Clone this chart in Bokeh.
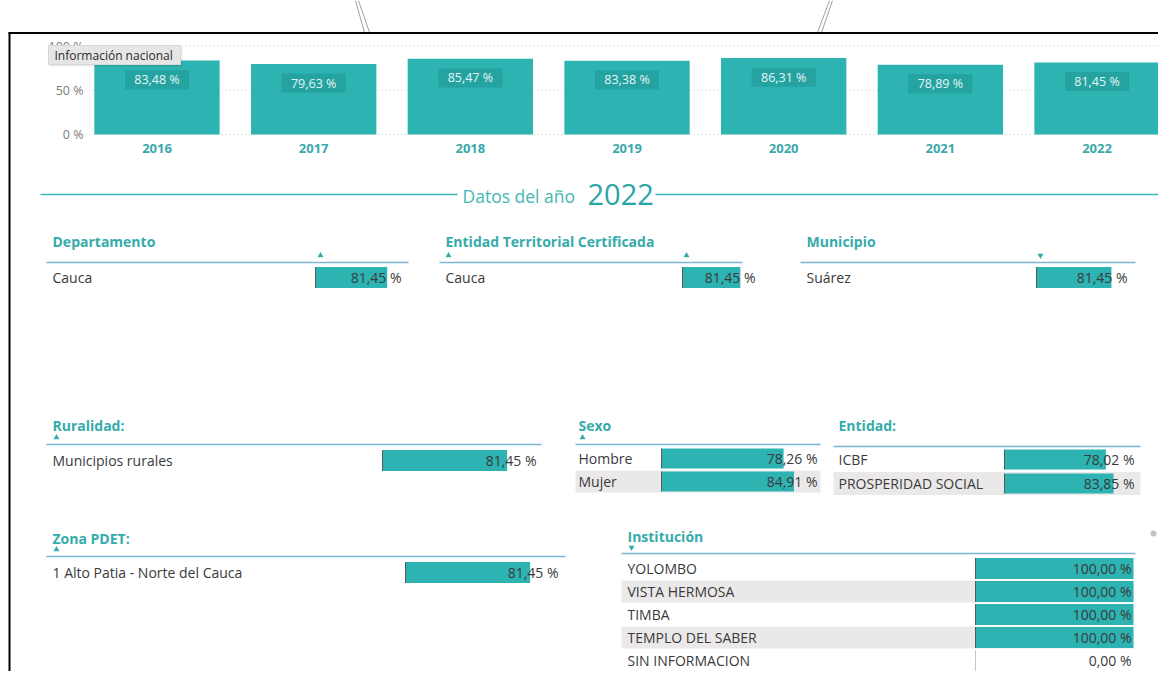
from bokeh.plotting import figure
from bokeh.models import Range1d, ColumnDataSource
from bokeh.core.properties import value
from bokeh.embed import file_html
from bokeh.resources import INLINE

# ---------------- data ----------------
years = ["2016", "2017", "2018", "2019", "2020", "2021", "2022"]
nacional = [83.48, 79.63, 85.47, 83.38, 86.31, 78.89, 81.45]
pct_ticks = [0, 50, 100]
pct_tick_labels = ["0 %", "50 %", "100 %"]

anio = "2022"

departamento = ["Cauca"]
departamento_val = [81.45]
etc_nombres = ["Cauca"]
etc_val = [81.45]
municipio = ["Suárez"]
municipio_val = [81.45]
ruralidad = ["Municipios rurales"]
ruralidad_val = [81.45]
sexo = ["Hombre", "Mujer"]
sexo_val = [78.26, 84.91]
entidad = ["ICBF", "PROSPERIDAD SOCIAL"]
entidad_val = [78.02, 83.85]
pdet = ["1 Alto Patia - Norte del Cauca"]
pdet_val = [81.45]
institucion = ["YOLOMBO", "VISTA HERMOSA", "TIMBA", "TEMPLO DEL SABER", "SIN INFORMACION"]
institucion_val = [100.0, 100.0, 100.0, 100.0, 0.0]

# ---------------- style ----------------
TEAL = "#2db3b1"
HEAD = "#35abab"
LINE = "#7db4d4"
TXT = "#3a3a3a"
STRIPE = "#ebe8e9"
FONT = value("Open Sans")

W, H = 1158, 671
X0, Y0 = 0, 0


def fmt(v):
    return f"{v:.2f}".replace(".", ",") + " %"


p = figure(width=W, height=H, x_range=Range1d(X0, X0 + W), y_range=Range1d(Y0 + H, Y0),
           output_backend="svg", toolbar_location=None, min_border=0,
           x_axis_location=None, y_axis_location=None)
p.grid.visible = False
p.outline_line_color = None
p.background_fill_color = "white"
p.border_fill_color = "white"


def xrange_lin(p0, scale):
    # value 0 at pixel p0, scale px per unit
    return Range1d((X0 - p0) / scale, (X0 + W - p0) / scale)


# ---------------- frame & artefacts ----------------
p.segment(x0=[355, 358, 832, 829], y0=[0, 0, 0, 0], x1=[364, 369, 821, 817], y1=[32, 32, 32, 32],
          line_color="#a0a0a0", line_width=1)
p.segment(x0=[8, 9], y0=[32.5, 32], x1=[1174, 9], y1=[32.5, 687], line_color="black", line_width=2)

# ---------------- top chart ----------------
p.extra_x_ranges["yr"] = xrange_lin(78.17, 156.67)
pct_zero, pct_scale = 134.0, -0.885
p.extra_y_ranges["pct"] = Range1d((Y0 + H - pct_zero) / pct_scale, (Y0 - pct_zero) / pct_scale)

p.segment(x0=85, x1=1164, y0=pct_ticks, y1=pct_ticks, y_range_name="pct",
          line_color="#c9c9c9", line_width=1, line_dash="1 3")
p.text(x=83, y=pct_ticks, text=pct_tick_labels, y_range_name="pct", text_align="right",
       text_baseline="middle", text_font=FONT, text_font_size="12.5px", text_color="#7a7a7a")

top_src = ColumnDataSource(dict(
    x=[i + 0.5 for i in range(len(years))],
    top=nacional,
    laby=[v - 21.5 for v in nacional],
    lab=[fmt(v) for v in nacional],
    year=years,
))
p.vbar(x="x", top="top", bottom=0, width=0.8, source=top_src, x_range_name="yr",
       y_range_name="pct", fill_color=TEAL, line_color=None)
p.rect(x="x", y="laby", width=64, height=19, width_units="screen", height_units="screen",
       source=top_src, x_range_name="yr", y_range_name="pct", fill_color="#229d9c",
       fill_alpha=0.75, line_color=None)
p.text(x="x", y="laby", text="lab", source=top_src, x_range_name="yr", y_range_name="pct",
       text_align="center", text_baseline="middle", text_font=FONT, text_font_size="12.5px",
       text_color="#e6f5f4")
p.text(x="x", y=148, text="year", source=top_src, x_range_name="yr", text_align="center",
       text_baseline="middle", text_font=FONT, text_font_size="13px", text_font_style="bold",
       text_color="#3aa9aa")

# tooltip box
p.quad(left=49, right=182, top=47, bottom=66, fill_color="#000000", fill_alpha=0.08, line_color=None)
p.quad(left=48, right=180, top=45, bottom=64, fill_color="#e6e6e6", line_color="#d6d6d6")
p.text(x=54, y=54.5, text=["Información nacional"], text_baseline="middle", text_font=FONT,
       text_font_size="12px", text_color="#2b2b2b")

# ---------------- header "Datos del año 2022" ----------------
p.segment(x0=[40, 655], x1=[457, 1165], y0=194, y1=194, line_color="#3db3b3", line_width=1.5)
p.text(x=462, y=195, text=["Datos del año"], text_baseline="middle", text_font=FONT,
       text_font_size="17.5px", text_color="#45b6b6")
p.text(x=587, y=194, text=[anio], text_baseline="middle", text_font=FONT,
       text_font_size="29px", text_color="#2aa5a5")


# ---------------- tables ----------------
def table(key, header, hx, hy, names, vals, lx0, lx1, ly, ry0, rh, cx0, cw, tright, bh,
          stripe_right=None, arrows=()):
    p.extra_x_ranges[key] = xrange_lin(cx0, cw / 100.0)
    ys = [ry0 + i * rh for i in range(len(names))]
    p.text(x=hx, y=hy, text=[header], text_baseline="middle", text_font=FONT,
           text_font_size="14px", text_font_style="bold", text_color=HEAD)
    for (kind, ax, ay) in arrows:
        p.scatter(x=ax, y=ay, marker=kind, size=6, fill_color=HEAD, line_color=None)
    p.segment(x0=lx0, x1=lx1, y0=ly, y1=ly, line_color=LINE, line_width=1.5)
    if stripe_right is not None:
        sy = [y for i, y in enumerate(ys) if i % 2 == 1]
        p.quad(left=lx0, right=stripe_right, top=[y - rh / 2 + 0.5 for y in sy],
               bottom=[y + rh / 2 - 0.5 for y in sy], fill_color=STRIPE, line_color=None)
    src = ColumnDataSource(dict(y=ys, v=vals, name=names, lab=[fmt(v) for v in vals]))
    p.hbar(y="y", left=0, right="v", height=bh, source=src, x_range_name=key,
           fill_color=TEAL, line_color=None)
    p.segment(x0=cx0, x1=cx0, y0=[y - bh / 2 for y in ys], y1=[y + bh / 2 for y in ys],
              line_color=["#5a5a5a" if v > 0 else "#c8c8c8" for v in vals], line_width=1)
    p.text(x=hx, y="y", text="name", source=src, text_baseline="middle", text_font=FONT,
           text_font_size="14px", text_color=TXT)
    p.text(x=tright, y="y", text="lab", source=src, text_align="right", text_baseline="middle",
           text_font=FONT, text_font_size="14px", text_color=TXT)


table("dep", "Departamento", 52, 241, departamento, departamento_val, 46, 408, 262, 277, 24,
      315, 88, 401, 21, arrows=[("triangle", 320, 255)])
table("etc", "Entidad Territorial Certificada", 445, 241, etc_nombres, etc_val, 439, 742, 262,
      277, 24, 682, 71, 755, 21, arrows=[("triangle", 448, 255), ("triangle", 686, 255)])
table("mun", "Municipio", 806, 241, municipio, municipio_val, 800, 1135, 262, 277, 24,
      1036, 92, 1127, 21, arrows=[("inverted_triangle", 1040, 255)])
table("rur", "Ruralidad:", 52, 425, ruralidad, ruralidad_val, 46, 541, 444, 460, 24,
      382, 153, 536, 21, arrows=[("triangle", 56, 437)])
table("sex", "Sexo", 578, 425, sexo, sexo_val, 575, 820, 444, 458, 23,
      661, 156, 817, 20, stripe_right=820, arrows=[("triangle", 582, 437)])
table("ent", "Entidad:", 838, 425, entidad, entidad_val, 833, 1140, 446, 459, 24,
      1004, 130, 1134, 20, stripe_right=1140)
table("pdet", "Zona PDET:", 52, 538, pdet, pdet_val, 46, 565, 556, 572, 24,
      405, 153, 558, 21, arrows=[("triangle", 56, 549)])
table("inst", "Institución", 627, 536, institucion, institucion_val, 621, 1135, 553, 568, 23,
      975, 158, 1131, 21, stripe_right=1133, arrows=[("inverted_triangle", 631, 547)])

# scroll indicator
p.scatter(x=1153, y=533, marker="circle", size=6, fill_color="#c4c4c4", line_color=None)

open("out.html", "w").write(file_html(p, INLINE))
